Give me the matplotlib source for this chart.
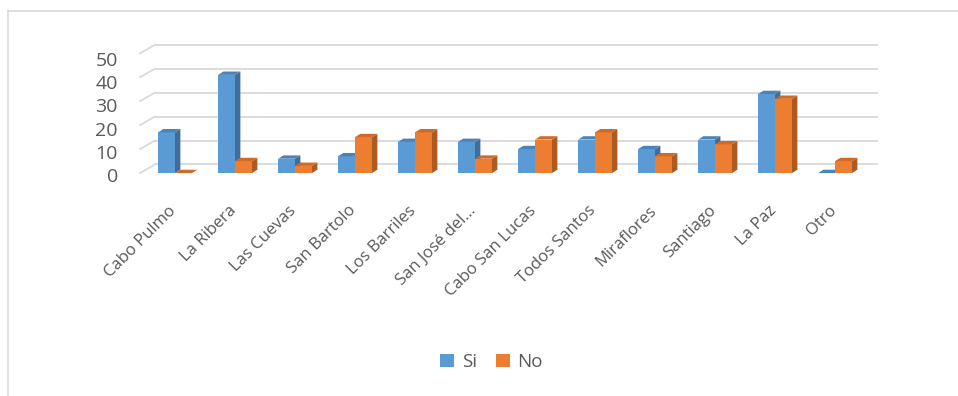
import matplotlib
matplotlib.use('Agg')
import matplotlib.pyplot as plt
from matplotlib.patches import Polygon, Patch
from matplotlib.lines import Line2D

plt.rcParams['font.family'] = ['Open Sans', 'DejaVu Sans']

lugares = ['Cabo Pulmo', 'La Ribera', 'Las Cuevas', 'San Bartolo', 'Los Barriles',
           'San José del...', 'Cabo San Lucas', 'Todos Santos', 'Miraflores',
           'Santiago', 'La Paz', 'Otro']
si_vals = [17, 41, 6, 7, 13, 13, 10, 14, 10, 14, 33, 0]
no_vals = [0, 5, 3, 15, 17, 6, 14, 17, 7, 12, 31, 5]
yticks = [0, 10, 20, 30, 40, 50]

# front, side, top shades
blue = ('#5B9BD5', '#3E6E99', '#4C84B7')
orange = ('#ED7D31', '#AE5A21', '#CF6A27')
grid_col = '#D9D9D9'
txt_col = '#595959'

W = 0.283    # bar width
DX = 0.09    # depth offset (x units)
DY = 1.4     # depth offset (y units)
GDY = 3.6    # back wall offset for gridlines
XMIN, XMAX = -0.583, 11.7
XBACK = -0.333


def bar3d(ax, x, h, cols):
    front, side, top = cols
    ax.add_patch(Polygon([(x, 0), (x + W, 0), (x + W, h), (x, h)],
                         closed=True, fc=front, ec='none', zorder=3))
    ax.add_patch(Polygon([(x + W, 0), (x + W + DX, DY), (x + W + DX, h + DY), (x + W, h)],
                         closed=True, fc=side, ec='none', zorder=3))
    ax.add_patch(Polygon([(x, h), (x + W, h), (x + W + DX, h + DY), (x + DX, h + DY)],
                         closed=True, fc=top, ec='none', zorder=3))


fig = plt.figure(figsize=(9.58, 3.96), dpi=100)
ax = fig.add_axes([140 / 958, (396 - 175) / 396, (877 - 140) / 958, 0.3375])
ax.set_xlim(XMIN, XMAX)
ax.set_ylim(0, 55)

# back wall gridlines with little diagonal floor stubs
for v in yticks:
    ax.plot([XBACK, XMAX], [v + GDY, v + GDY], color=grid_col, lw=1.3, zorder=1, clip_on=False)
    ax.plot([XMIN, XBACK], [v, v + GDY], color=grid_col, lw=1.3, zorder=1, clip_on=False)

for i in range(len(lugares)):
    bar3d(ax, i - W, si_vals[i], blue)
    bar3d(ax, i, no_vals[i], orange)

for s in ax.spines.values():
    s.set_visible(False)

# value labels sit a bit between front and back planes
ax.set_yticks([v * 0.97 - 0.8 for v in yticks])
ax.set_yticklabels([str(v) for v in yticks], fontsize=14, color=txt_col)
ax.tick_params(axis='y', length=0, pad=16)

ax.set_xticks([i - 0.02 for i in range(len(lugares))])
ax.set_xticklabels(lugares, rotation=45, ha='right', va='center',
                   rotation_mode='anchor', fontsize=12, color=txt_col)
ax.tick_params(axis='x', length=0, pad=24)

handles = [Patch(fc=blue[0], ec='none'), Patch(fc=orange[0], ec='none')]
leg = fig.legend(handles, ['Si', 'No'], loc='center', bbox_to_anchor=(0.513, 1 - 362 / 396),
                 ncol=2, frameon=False, fontsize=13.5, handlelength=0.75, handleheight=0.75,
                 handletextpad=0.4, columnspacing=1.0)
for t in leg.get_texts():
    t.set_color(txt_col)

# chart area border (top and left visible)
fig.add_artist(Line2D([8 / 958, 1], [1 - 11 / 396, 1 - 11 / 396], color=grid_col, lw=1.2))
fig.add_artist(Line2D([8 / 958, 8 / 958], [0, 1 - 11 / 396], color=grid_col, lw=1.2))

fig.savefig('out.png', dpi=100, facecolor='white')
